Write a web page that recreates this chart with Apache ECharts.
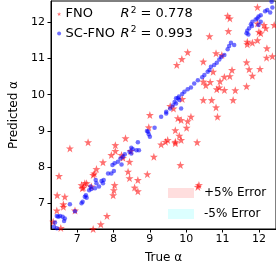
<!DOCTYPE html>
<html>
<head>
<meta charset="utf-8">
<script src="https://cdn.jsdelivr.net/npm/echarts@6/dist/echarts.min.js"></script>
<style>
  html, body { margin: 0; padding: 0; background: #fff; }
  #chart { width: 276px; height: 273px; }
</style>
</head>
<body>
<div id="chart"></div>
<script>
// values
var fnoTrue = [11.96, 11.14, 11.20, 10.64, 11.16, 10.04, 9.88, 9.74, 10.47, 10.82, 10.98, 11.66, 11.68, 11.68, 11.82,
    11.96, 12.00, 11.96, 12.05, 12.14, 12.19, 12.22, 12.37, 12.21, 12.03, 11.82, 11.73, 11.26, 11.20, 11.05,
    10.93, 10.91, 10.84, 10.47, 10.66, 10.54, 10.74, 11.66, 11.35, 11.05, 11.29, 10.70, 10.47, 10.82, 9.56,
    9.65, 9.89, 9.00, 8.97, 8.33, 7.30, 6.80, 6.50, 8.05, 8.05, 7.94, 8.22, 8.26, 8.47, 9.31,
    9.11, 7.71, 7.53, 7.47, 7.44, 8.44, 8.40, 8.44, 8.67, 8.93, 7.21, 7.12, 7.17, 7.14, 7.26,
    7.39, 8.03, 8.01, 7.99, 8.58, 8.67, 6.45, 6.66, 6.62, 6.62, 6.44, 6.94, 7.82, 7.65, 6.34,
    6.55, 7.44, 9.77, 9.86, 10.04, 10.13, 10.86, 9.70, 9.81, 10.01, 9.43, 9.49, 9.70, 9.70, 9.86,
    10.30, 9.84, 10.32, 10.35, 12.42]
var fnoPred = [12.41, 12.17, 12.10, 11.61, 11.75, 11.17, 10.98, 10.82, 10.91, 11.14, 11.09, 10.89, 11.46, 11.39, 11.43,
    11.50, 11.73, 11.96, 11.69, 11.92, 11.83, 11.28, 11.06, 11.02, 10.71, 10.52, 10.70, 10.68, 10.51, 10.49,
    10.37, 10.20, 10.15, 10.36, 10.35, 10.26, 10.63, 10.23, 10.12, 10.13, 9.85, 9.85, 9.85, 9.65, 9.69,
    9.62, 9.88, 9.44, 9.10, 8.80, 8.69, 8.52, 7.76, 8.61, 8.45, 8.34, 8.34, 8.26, 8.45, 8.63,
    8.29, 8.14, 7.95, 7.83, 7.79, 8.15, 7.88, 7.70, 7.65, 7.81, 7.56, 7.51, 7.44, 7.42, 7.56,
    7.47, 7.51, 7.37, 7.23, 7.44, 7.34, 7.23, 7.19, 6.98, 6.91, 6.81, 6.81, 6.66, 6.43, 6.50,
    6.33, 6.30, 9.35, 9.30, 9.27, 9.39, 9.39, 9.02, 8.87, 9.09, 8.70, 8.75, 8.70, 8.66, 8.75,
    8.69, 8.06, 7.46, 7.51, 11.92]

var scTrue = [12.37, 12.23, 12.17, 12.05, 11.99, 11.96, 11.91, 11.82, 11.78, 11.81, 11.73, 11.68, 11.66, 11.71, 12.05,
    11.23, 11.32, 11.18, 11.14, 11.05, 10.96, 10.91, 10.84, 10.77, 10.68, 10.64, 10.59, 10.50, 10.44, 10.32,
    10.22, 10.13, 10.04, 9.95, 9.89, 9.77, 9.68, 9.72, 9.45, 9.86, 9.81, 9.31, 9.45, 8.95, 9.13,
    8.92, 8.97, 9.00, 8.67, 8.49, 8.53, 8.44, 8.49, 8.63, 8.70, 8.31, 8.26, 8.19, 8.12, 8.22,
    8.03, 7.97, 8.01, 7.94, 7.85, 7.73, 7.67, 7.71, 7.53, 7.60, 7.49, 7.39, 7.33, 7.37, 7.51,
    7.24, 7.21, 7.26, 7.15, 7.12, 6.80, 6.94, 6.44, 6.53, 6.60, 6.66, 6.64, 6.48, 6.39, 6.36,
    6.44, 12.31, 12.35, 11.99, 9.72, 9.80, 9.63, 9.56]
var scPred = [12.40, 12.33, 12.30, 12.19, 12.15, 12.10, 12.07, 12.01, 11.94, 11.89, 11.83, 11.76, 11.69, 11.66, 12.01,
    11.43, 11.37, 11.34, 11.25, 11.09, 11.04, 10.97, 10.88, 10.82, 10.77, 10.68, 10.63, 10.54, 10.48, 10.40,
    10.31, 10.20, 10.15, 10.08, 10.02, 9.90, 9.80, 9.76, 9.53, 9.62, 9.85, 9.39, 9.48, 8.98, 9.09,
    9.00, 8.91, 8.84, 8.69, 8.54, 8.50, 8.43, 8.38, 8.47, 8.47, 8.36, 8.29, 8.24, 8.15, 8.08,
    8.11, 8.06, 7.90, 7.83, 7.83, 7.65, 7.62, 7.56, 7.56, 7.47, 7.42, 7.40, 7.37, 7.47, 7.65,
    7.23, 7.19, 7.16, 7.05, 7.01, 6.98, 6.79, 6.66, 6.66, 6.64, 6.59, 6.52, 6.64, 6.48, 6.36,
    6.32, 12.26, 12.56, 11.92, 9.90, 9.95, 9.70, 9.62]

var seriesNames = ["FNO", "SC-FNO"]
var r2Values = ["0.778", "0.993"]
var bandNames = ["+5% Error", "-5% Error"]
var tickValues = [7, 8, 9, 10, 11, 12]

var starPath = "path://M0,-10L2.35,-3.24L9.51,-3.09L3.8,1.24L5.88,8.09L0,4L-5.88,8.09L-3.8,1.24L-9.51,-3.09L-2.35,-3.24Z"
var font = "DejaVu Sans"

function pairs(xs, ys) {
    return xs.map((x, i) => [x, ys[i]])
}

var chart = echarts.init(document.querySelector("#chart"))

var axisCommon = {
    type: "value",
    splitLine: { show: false },
    axisLine: { show: true, onZero: false, lineStyle: { color: "#000", width: 1 } },
    axisTick: { show: true, inside: false, length: 3.5, customValues: tickValues, lineStyle: { color: "#000" } },
    axisLabel: { customValues: tickValues, color: "#000", fontFamily: font, fontSize: 11 },
    nameLocation: "middle",
    nameTextStyle: { color: "#000", fontFamily: font, fontSize: 12 },
}

var option = {
    animation: false,
    backgroundColor: "#fff",
    grid: {
        left: 51,
        top: 1,
        right: -1,
        bottom: 44,
        show: true,
        borderColor: "#000",
        borderWidth: 1,
        backgroundColor: "transparent",
    },
    legend: [{
        data: [{ name: seriesNames[0], icon: starPath }, { name: seriesNames[1], icon: "circle" }],
        orient: "vertical",
        left: 52,
        top: 1,
        itemWidth: 5,
        itemHeight: 4,
        itemGap: 5,
        formatter: function (name) {
            var i = seriesNames.indexOf(name)
            return "{n|" + name + "}{r|R}{s|2}{e| = " + r2Values[i] + "}"
        },
        textStyle: {
            color: "#000",
            fontFamily: font,
            fontSize: 13,
            padding: [0, 0, 0, -1],
            rich: {
                n: { width: 55, fontFamily: font, fontSize: 13, color: "#000" },
                r: { fontFamily: font, fontSize: 13, fontStyle: "italic", color: "#000" },
                s: { fontFamily: font, fontSize: 9, color: "#000", verticalAlign: "top", padding: [0, 0, 7, 1] },
                e: { fontFamily: font, fontSize: 13, color: "#000" },
            },
        },
    }, {
        data: bandNames,
        orient: "vertical",
        left: 163,
        top: 182,
        icon: "rect",
        itemWidth: 26,
        itemHeight: 10,
        itemGap: 9,
        textStyle: { color: "#000", fontFamily: font, fontSize: 12, padding: [0, 0, 0, 5] },
    }],
    xAxis: Object.assign({}, axisCommon, {
        min: 6.28,
        max: 12.47,
        name: "True α",
        nameGap: 23,
        axisLabel: Object.assign({}, axisCommon.axisLabel, { margin: 5 }),
    }),
    yAxis: Object.assign({}, axisCommon, {
        min: 6.3,
        max: 12.58,
        name: "Predicted α",
        nameGap: 27,
        axisLabel: Object.assign({}, axisCommon.axisLabel, { margin: 6 }),
    }),
    series: [{
        name: seriesNames[0],
        type: "scatter",
        symbol: starPath,
        symbolSize: 8,
        data: pairs(fnoTrue, fnoPred),
        itemStyle: { color: "rgba(255,0,0,0.7)" },
    }, {
        name: seriesNames[1],
        type: "scatter",
        symbol: "circle",
        symbolSize: 4.5,
        data: pairs(scTrue, scPred),
        itemStyle: { color: "rgba(0,0,255,0.7)" },
    }, {
        name: bandNames[0],
        type: "line",
        data: [],
        itemStyle: { color: "#ffdede" },
    }, {
        name: bandNames[1],
        type: "line",
        data: [],
        itemStyle: { color: "#dcffff" },
    }],
}

chart.setOption(option)
</script>
</body>
</html>
